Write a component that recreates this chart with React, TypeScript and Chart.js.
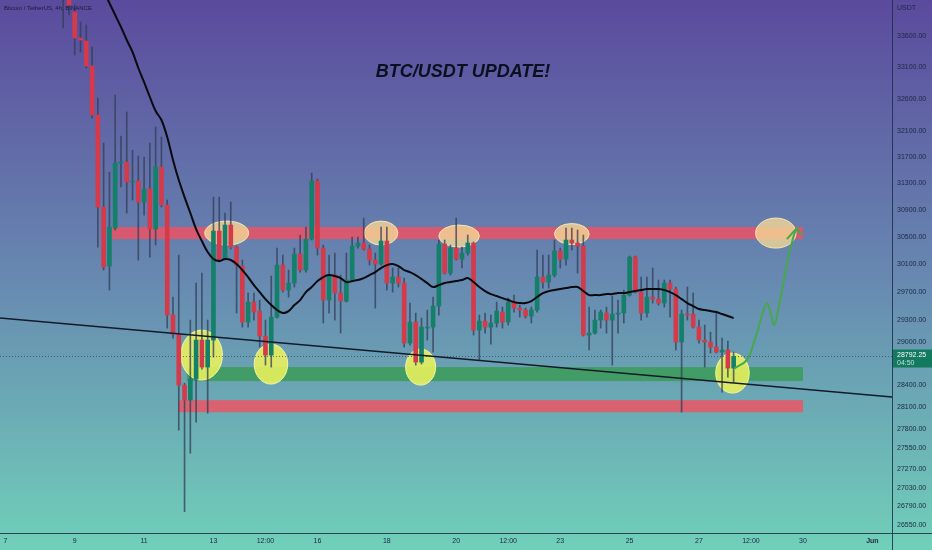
import React, { useEffect, useRef } from "react";
import Chart from "chart.js/auto";

// candle index = number of 4h bars since May 7 00:00
const firstIndex = 10;

const opens = [
  34853, 34353, 33991, 33568, 33519, 33118, 32345, 30942, 30075, 30630,
  31605, 31620, 31317, 31332, 31017, 31212, 30616, 31544, 30972, 29373,
  29105, 28398, 28193, 28480, 29021, 28646, 29021, 30586, 30176, 30675,
  30351, 30075, 29274, 29557, 29429, 29077, 28812, 29344, 30089, 29729,
  29829, 30249, 30017, 30468, 31332, 30336, 29586, 29944, 29686, 29572,
  29872, 30366, 30410, 30322, 30162, 30104, 30439, 29829, 29916, 29829,
  28979, 29274, 28715, 29189, 29203, 29500, 30395, 29973, 30336, 30176,
  30264, 30410, 29161, 29288, 29203, 29260, 29415, 29274, 29557, 29472,
  29444, 29359, 29444, 29916, 29844, 29944, 30293, 30176, 30454, 30410,
  30366, 29091, 29119, 29302, 29401, 29302, 29387, 29401, 29657, 30205,
  29700, 29401, 29629, 29600, 29543, 29829, 29743, 28993, 29387, 29387,
  29203, 29021, 28993, 28923, 28854, 28882, 28632,
];
const highs = [
  35022, 34519, 34106, 33827, 33779, 33422, 32611, 31911, 31468, 32658,
  32019, 32392, 31804, 31712, 31697, 31911, 32158, 32004, 31047, 29629,
  30234, 28425, 29302, 29829, 29973, 29302, 31091, 31091, 30853, 31017,
  30366, 30162, 29686, 29686, 29586, 29302, 29930, 30336, 30234, 30017,
  30336, 30527, 30645, 31453, 31361, 30380, 30234, 30264, 29944, 30264,
  30498, 30498, 30778, 30380, 30264, 30645, 30645, 30046, 30046, 29901,
  29543, 29401, 29330, 29444, 29629, 30454, 30454, 30380, 30778, 30351,
  30527, 30425, 29373, 29401, 29373, 29557, 29486, 29614, 29657, 29514,
  29472, 29486, 30307, 30234, 30234, 30454, 30336, 30630, 30630, 30601,
  30527, 29486, 29444, 29444, 29486, 29643, 29586, 29729, 30220, 30220,
  29916, 29916, 30046, 29872, 29872, 29872, 29772, 29444, 29772, 29686,
  29302, 29232, 29133, 29401, 29049, 29007, 28854,
];
const lows = [
  33730, 33942, 33294, 33342, 33086, 32298, 30351, 30017, 29729, 30601,
  31242, 30853, 31047, 30162, 30823, 30205, 30380, 30942, 29189, 29049,
  27788, 26718, 27481, 27896, 28618, 28016, 28784, 30133, 30162, 30322,
  29401, 29203, 29203, 29302, 28923, 28673, 28646, 29330, 29700, 29629,
  29772, 29988, 29988, 30454, 30234, 29260, 29401, 29302, 29119, 29557,
  29844, 30336, 30307, 30089, 29472, 30089, 29729, 29700, 29772, 28923,
  28951, 28673, 28687, 29021, 28854, 29373, 29959, 29944, 30162, 30046,
  30234, 29091, 28743, 29119, 28965, 29203, 29189, 29232, 29415, 29344,
  29330, 29260, 29415, 29757, 29757, 29916, 30046, 30089, 30307, 29973,
  29077, 28882, 29105, 29189, 29119, 28673, 29119, 29260, 29643, 29686,
  29302, 29344, 29543, 29514, 29486, 29344, 28882, 28030, 29302, 29189,
  28979, 28646, 28840, 28840, 28302, 28508, 28439,
];
const closes = [
  34436, 34106, 33568, 33535, 33118, 32345, 30942, 30060, 30645, 31605,
  31620, 31317, 31332, 31017, 31212, 30616, 31544, 30972, 29373, 29105,
  28398, 28193, 28480, 29021, 28646, 29021, 30586, 30176, 30675, 30351,
  30089, 29274, 29557, 29415, 29077, 28812, 29344, 30089, 29729, 29829,
  30249, 30017, 30468, 31332, 30336, 29586, 29944, 29686, 29572, 29872,
  30366, 30410, 30322, 30162, 30104, 30439, 29829, 29916, 29829, 28979,
  29274, 28715, 29203, 29203, 29500, 30395, 29973, 30336, 30176, 30264,
  30410, 29161, 29288, 29203, 29260, 29429, 29274, 29557, 29472, 29444,
  29359, 29444, 29916, 29844, 29944, 30293, 30176, 30454, 30410, 30366,
  29091, 29119, 29302, 29415, 29302, 29387, 29401, 29657, 30205, 29700,
  29401, 29629, 29600, 29543, 29829, 29743, 28993, 29387, 29373, 29203,
  29021, 28993, 28923, 28854, 28882, 28632, 28792.25,
];

// black moving average, first value at candle 16
const maStart = 16;
const maValues = [
  34536, 34337, 34139, 33942, 33746, 33535, 33342, 33086, 32863, 32627,
  32407, 32267, 32004, 31651, 31347, 31091, 30853, 30616, 30439, 30278,
  30176, 30147, 30176, 30162, 30104, 30017, 29916, 29800, 29700, 29600,
  29515, 29444, 29401, 29429, 29515, 29586, 29700, 29772, 29858, 29916,
  29944, 29930, 29901, 29844, 29858, 29872, 29901, 29944, 29988, 30046,
  30089, 30104, 30075, 30017, 29988, 29944, 29887, 29829, 29772, 29800,
  29829, 29844, 29858, 29872, 29901, 29844, 29772, 29714, 29671, 29643,
  29614, 29586, 29557, 29543, 29543, 29572, 29629, 29686, 29714, 29729,
  29743, 29757, 29772, 29772, 29714, 29657, 29657, 29657, 29671, 29671,
  29686, 29686, 29700, 29714, 29729, 29743, 29743, 29743, 29729, 29700,
  29657, 29600, 29543, 29500, 29458, 29444, 29429, 29415, 29387, 29359,
  29330,
];

const xTickIdx = [0, 12, 24, 36, 45, 54, 66, 78, 87, 96, 108, 120, 129, 138, 150];
const xTickLabels = ["7", "9", "11", "13", "12:00", "16", "18", "20", "12:00", "23", "25", "27", "12:00", "30", "Jun"];
const yTicks = [
  33600, 33100, 32600, 32100, 31700, 31300, 30900, 30500, 30100, 29700,
  29300, 29000, 28400, 28100, 27800, 27550, 27270, 27030, 26790, 26550,
];

const xMin = -0.93;
const xMax = 153.4;
const yMin = 26445;
const yMax = 34188;

const lastPrice = 28792.25;
const trendPrices = [29330, 28235];

const arrowIdx = [126.2, 128.25, 129.65, 130.85, 131.7, 132.4, 133.0, 133.7, 134.6, 135.45, 136.3, 136.9];
const arrowPrices = [28632, 28743, 29021, 29349, 29539, 29401, 29232, 29444, 29825, 30195, 30488, 30627];
const arrowHeadIdx = [135.2, 136.9, 137.8];
const arrowHeadPrices = [30468, 30627, 30527];

// zones: [fromIdx, toIdx, low, high]
const redZones = [
  [18.4, 138, 30468, 30645],
  [29.9, 138, 28030, 28193],
];
const greenZones = [[31.4, 138, 28453, 28646]];
// marks: [centerIdx, halfWidthIdx, low, high]
const yellowMarks = [
  [33.96, 3.6, 28467, 29161],
  [45.95, 2.9, 28412, 28965],
  [71.85, 2.6, 28398, 28896],
  [125.8, 2.9, 28289, 28840],
];
const orangeMarks = [
  [38.3, 3.8, 30380, 30734],
  [65, 2.9, 30380, 30734],
  [78.5, 3.5, 30351, 30675],
  [98, 3.0, 30388, 30697],
  [133.3, 3.5, 30336, 30778],
];

const FONT = "'Liberation Sans', Arial, sans-serif";
const UP = "#14806a";
const DOWN = "#d43a4a";
const AXIS_TEXT = "#1d2742";

const drawings = {
  id: "drawings",
  beforeDraw(chart: any) {
    const { ctx, width, height } = chart;
    const g = ctx.createLinearGradient(0, 0, 0, height);
    g.addColorStop(0, "#5b4a9d");
    g.addColorStop(0.5, "#6788b1");
    g.addColorStop(1, "#70d0b9");
    ctx.save();
    ctx.fillStyle = g;
    ctx.fillRect(0, 0, width, height);
    ctx.restore();
  },
  beforeDatasetsDraw(chart: any) {
    const { ctx, chartArea: a } = chart;
    const x = chart.scales.x;
    const y = chart.scales.y;
    ctx.save();
    ctx.beginPath();
    ctx.rect(a.left, a.top, a.right - a.left, a.bottom - a.top);
    ctx.clip();
    const zone = (z: number[], color: string) => {
      const x0 = x.getPixelForValue(z[0]);
      const x1 = x.getPixelForValue(z[1]);
      const y0 = y.getPixelForValue(z[3]);
      const y1 = y.getPixelForValue(z[2]);
      ctx.fillStyle = color;
      ctx.fillRect(x0, y0, x1 - x0, y1 - y0);
    };
    redZones.forEach((z) => zone(z, "rgba(245,80,95,0.8)"));
    greenZones.forEach((z) => zone(z, "rgba(50,155,70,0.72)"));
    const mark = (m: number[], fill: string, edge: string) => {
      const cx = x.getPixelForValue(m[0]);
      const rx = x.getPixelForValue(m[0] + m[1]) - cx;
      const top = y.getPixelForValue(m[3]);
      const bottom = y.getPixelForValue(m[2]);
      ctx.beginPath();
      ctx.ellipse(cx, (top + bottom) / 2, rx, (bottom - top) / 2, 0, 0, Math.PI * 2);
      ctx.fillStyle = fill;
      ctx.fill();
      ctx.strokeStyle = edge;
      ctx.lineWidth = 1;
      ctx.stroke();
    };
    orangeMarks.forEach((m) => mark(m, "rgba(245,215,150,0.8)", "rgba(255,235,180,0.9)"));
    yellowMarks.forEach((m) => mark(m, "rgba(240,245,90,0.85)", "rgba(250,250,160,0.9)"));
    ctx.restore();
  },
  afterDraw(chart: any) {
    const { ctx, chartArea: a, width, height } = chart;
    const y = chart.scales.y;
    ctx.save();
    ctx.strokeStyle = "rgba(30,45,70,0.85)";
    ctx.lineWidth = 1;
    ctx.beginPath();
    ctx.moveTo(Math.round(a.right) + 0.5, 0);
    ctx.lineTo(Math.round(a.right) + 0.5, height);
    ctx.moveTo(0, Math.round(a.bottom) + 0.5);
    ctx.lineTo(width, Math.round(a.bottom) + 0.5);
    ctx.stroke();

    ctx.fillStyle = "#0c0f1e";
    ctx.font = `italic bold 18px ${FONT}`;
    ctx.textAlign = "center";
    ctx.textBaseline = "middle";
    ctx.fillText("BTC/USDT UPDATE!", 463, 72);

    ctx.font = `6px ${FONT}`;
    ctx.textAlign = "left";
    ctx.fillStyle = "#1b1b33";
    ctx.fillText("Bitcoin / TetherUS, 4h, BINANCE", 4, 8);

    ctx.font = `7px ${FONT}`;
    ctx.fillStyle = AXIS_TEXT;
    ctx.fillText("USDT", a.right + 5, 8);

    const py = y.getPixelForValue(lastPrice);
    ctx.fillStyle = "#127a5e";
    ctx.fillRect(a.right + 1, py - 7, width - a.right - 1, 18);
    ctx.fillStyle = "#ffffff";
    ctx.fillText(lastPrice.toFixed(2), a.right + 5, py - 1);
    ctx.fillStyle = "rgba(255,255,255,0.75)";
    ctx.fillText("04:50", a.right + 5, py + 6.5);
    ctx.restore();
  },
};

export default function App() {
  const canvasRef = useRef<HTMLCanvasElement>(null);

  useEffect(() => {
    if (!canvasRef.current) return;

    const candleIdx = opens.map((_, k) => firstIndex + k);
    const bodies = opens.map((o, k) => ({ x: candleIdx[k], y: [o, closes[k]] }));
    const wicks = lows.map((l, k) => ({ x: candleIdx[k], y: [l, highs[k]] }));
    const bodyColors = opens.map((o, k) => (closes[k] >= o ? UP : DOWN));
    const ma = maValues.map((v, k) => ({ x: maStart + k, y: v }));
    const arrow = arrowIdx.map((v, k) => ({ x: v, y: arrowPrices[k] }));
    const arrowHead = arrowHeadIdx.map((v, k) => ({ x: v, y: arrowHeadPrices[k] }));

    const chart = new Chart(canvasRef.current, {
      type: "bar",
      data: {
        datasets: [
          {
            type: "line",
            data: arrow,
            borderColor: "#46a84e",
            borderWidth: 2,
            pointRadius: 0,
            tension: 0.4,
            order: 0,
          } as any,
          {
            type: "line",
            data: arrowHead,
            borderColor: "#46a84e",
            borderWidth: 2,
            pointRadius: 0,
            order: 0,
          } as any,
          {
            type: "line",
            data: ma,
            borderColor: "#0a0a0f",
            borderWidth: 2,
            pointRadius: 0,
            tension: 0.35,
            order: 1,
          } as any,
          {
            type: "line",
            data: [
              { x: xMin, y: trendPrices[0] },
              { x: xMax, y: trendPrices[1] },
            ],
            borderColor: "#151a2a",
            borderWidth: 1.5,
            pointRadius: 0,
            order: 1,
          } as any,
          {
            data: bodies,
            backgroundColor: bodyColors,
            barThickness: 4,
            minBarLength: 1,
            grouped: false,
            order: 2,
          } as any,
          {
            data: wicks,
            backgroundColor: "rgba(50,62,85,0.75)",
            barThickness: 1,
            grouped: false,
            order: 3,
          } as any,
          {
            type: "line",
            data: [
              { x: xMin, y: lastPrice },
              { x: xMax, y: lastPrice },
            ],
            borderColor: "rgba(40,50,70,0.6)",
            borderWidth: 1,
            borderDash: [1, 2],
            pointRadius: 0,
            order: 4,
          } as any,
        ],
      },
      options: {
        responsive: false,
        animation: false,
        layout: { autoPadding: false, padding: 0 } as any,
        plugins: {
          legend: { display: false },
          tooltip: { enabled: false },
        },
        scales: {
          x: {
            type: "linear",
            position: "bottom",
            min: xMin,
            max: xMax,
            offset: false,
            grid: { display: false, drawTicks: false, offset: false },
            border: { display: false },
            afterFit: (s: any) => {
              s.height = 17;
              s.paddingLeft = 0;
              s.paddingRight = 0;
            },
            afterBuildTicks: (s: any) => {
              s.ticks = xTickIdx.map((v) => ({ value: v }));
            },
            ticks: {
              autoSkip: false,
              maxRotation: 0,
              padding: 4,
              color: AXIS_TEXT,
              font: (c: any) => ({
                family: FONT,
                size: 7,
                weight: c.index === xTickLabels.length - 1 ? "bold" : "normal",
              }),
              callback: (_v: any, i: number) => xTickLabels[i],
            },
          },
          y: {
            type: "logarithmic",
            position: "right",
            min: yMin,
            max: yMax,
            grid: { display: false, drawTicks: false },
            border: { display: false },
            afterFit: (s: any) => {
              s.width = 40;
              s.paddingTop = 0;
              s.paddingBottom = 0;
            },
            afterBuildTicks: (s: any) => {
              s.ticks = yTicks.map((v) => ({ value: v }));
            },
            ticks: {
              autoSkip: false,
              padding: 5,
              color: AXIS_TEXT,
              font: { family: FONT, size: 7 },
              callback: (v: any) => Number(v).toFixed(2),
            },
          },
        },
      } as any,
      plugins: [drawings],
    });

    return () => chart.destroy();
  }, []);

  return (
    <div style={{ position: "fixed", left: 0, top: 0, width: 932, height: 550 }}>
      <canvas
        ref={canvasRef}
        width={932}
        height={550}
        style={{ display: "block", width: 932, height: 550 }}
      />
    </div>
  );
}
